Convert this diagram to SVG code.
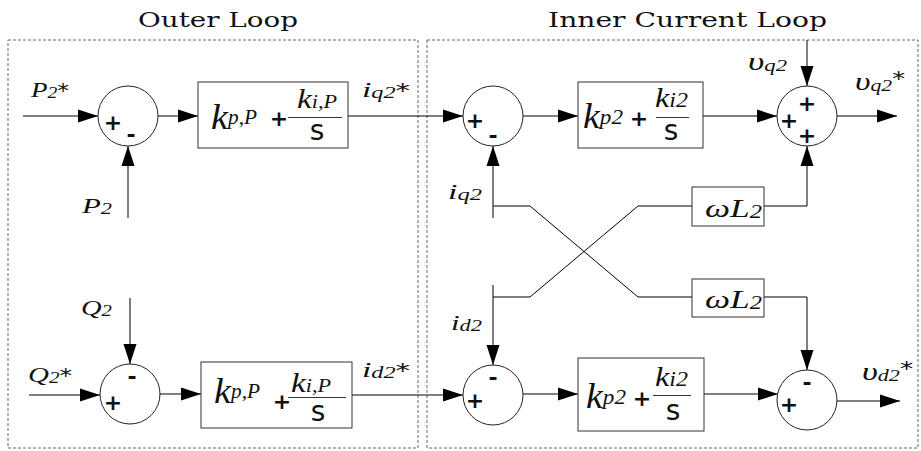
<svg xmlns="http://www.w3.org/2000/svg" width="921" height="451" viewBox="0 0 921 451">
<defs>
<style>
.dash{fill:none;stroke:#666;stroke-width:1;stroke-dasharray:3 2}
.blk{fill:#fff;stroke:#333;stroke-width:1}
.sum{fill:#fff;stroke:#222;stroke-width:1}
.wire{fill:none;stroke:#000;stroke-width:1}
.arr{marker-end:url(#ah)}
.title{font-family:"DejaVu Serif",serif;font-size:21px;fill:#111}
.m{font-family:"Liberation Serif",serif;font-style:italic;fill:#111}
.ast{font-family:"DejaVu Sans",sans-serif;font-style:normal}
.sg{font-family:"DejaVu Sans",sans-serif;font-weight:bold;font-size:22px;text-anchor:middle;fill:#111}
.s{font-family:"DejaVu Sans",sans-serif;font-size:28px;text-anchor:middle;fill:#111}
.fl{stroke:#333;stroke-width:1}
</style>
<marker id="ah" markerUnits="userSpaceOnUse" markerWidth="20" markerHeight="14" refX="20" refY="7" orient="auto">
<path d="M0,0.5 L20,7 L0,13.5 z" fill="#000"/>
</marker>
</defs>
<rect width="921" height="451" fill="#fff"/>

<g id="outer-loop">
<rect class="dash" x="8" y="40" width="410" height="408"/>
<text class="title" x="138" y="27" textLength="160" lengthAdjust="spacingAndGlyphs">Outer Loop</text>
</g>
<g id="inner-loop">
<rect class="dash" x="427" y="40" width="491" height="408"/>
<text class="title" x="548" y="27" textLength="279" lengthAdjust="spacingAndGlyphs">Inner Current Loop</text>
</g>

<g id="connectors">
<line class="wire arr" x1="23" y1="116" x2="98" y2="116"/>
<line class="wire arr" x1="128" y1="218" x2="128" y2="146"/>
<line class="wire arr" x1="158" y1="116" x2="198" y2="116"/>
<line class="wire arr" x1="348" y1="116" x2="463" y2="116"/>
<line class="wire arr" x1="523" y1="116" x2="578" y2="116"/>
<line class="wire arr" x1="703" y1="116" x2="777" y2="116"/>
<line class="wire arr" x1="807" y1="40" x2="807" y2="86"/>
<line class="wire arr" x1="837" y1="116" x2="897" y2="116"/>
<line class="wire arr" x1="493" y1="218" x2="493" y2="146"/>
<polyline class="wire" points="493,206 530,206 638,297 692,297"/>
<polyline class="wire arr" points="764,206 807,206 807,146"/>
<line class="wire arr" x1="493" y1="285" x2="493" y2="365"/>
<polyline class="wire" points="493,297 530,297 638,206 692,206"/>
<polyline class="wire arr" points="764,297 807,297 807,370"/>
<line class="wire arr" x1="29" y1="395" x2="100" y2="395"/>
<line class="wire arr" x1="130" y1="298" x2="130" y2="364"/>
<line class="wire arr" x1="160" y1="394" x2="201" y2="394"/>
<line class="wire arr" x1="352" y1="395" x2="463" y2="395"/>
<line class="wire arr" x1="523" y1="394" x2="578" y2="394"/>
<line class="wire arr" x1="704" y1="394" x2="778" y2="394"/>
<line class="wire arr" x1="837" y1="401" x2="900" y2="401"/>
</g>

<g id="labels">
<text class="m" x="31" y="97" font-size="22" textLength="38" lengthAdjust="spacingAndGlyphs">P<tspan font-size="16" dy="1">2</tspan><tspan class="ast" font-size="19" dy="-1">*</tspan></text>
<text class="m" x="82" y="213" font-size="22" textLength="30" lengthAdjust="spacingAndGlyphs">P<tspan font-size="16" dy="1">2</tspan></text>
<text class="m" x="81" y="315" font-size="22" textLength="31" lengthAdjust="spacingAndGlyphs">Q<tspan font-size="16" dy="1">2</tspan></text>
<text class="m" x="28" y="382" font-size="22" textLength="44" lengthAdjust="spacingAndGlyphs">Q<tspan font-size="16" dy="1">2</tspan><tspan class="ast" font-size="19" dy="-1">*</tspan></text>
<text class="m" x="362" y="97" font-size="22" textLength="48" lengthAdjust="spacingAndGlyphs">i<tspan font-size="16" dy="1">q2</tspan><tspan class="ast" font-size="19" dy="-1">*</tspan></text>
<text class="m" x="362" y="377" font-size="22" textLength="48" lengthAdjust="spacingAndGlyphs">i<tspan font-size="16" dy="1">d2</tspan><tspan class="ast" font-size="19" dy="-1">*</tspan></text>
<text class="m" x="448" y="199" font-size="22" textLength="34" lengthAdjust="spacingAndGlyphs">i<tspan font-size="16" dy="1">q2</tspan></text>
<text class="m" x="451" y="330" font-size="22" textLength="31" lengthAdjust="spacingAndGlyphs">i<tspan font-size="16" dy="1">d2</tspan></text>
<text class="m" x="748" y="70" font-size="25" textLength="39" lengthAdjust="spacingAndGlyphs">υ<tspan font-size="16" dy="1">q2</tspan></text>
<text class="m" x="855" y="90" font-size="25" textLength="50" lengthAdjust="spacingAndGlyphs">υ<tspan font-size="16" dy="1">q2</tspan><tspan class="ast" font-size="19" dy="-6">*</tspan></text>
<text class="m" x="862" y="380" font-size="25" textLength="51" lengthAdjust="spacingAndGlyphs">υ<tspan font-size="16" dy="1">d2</tspan><tspan class="ast" font-size="19" dy="-6">*</tspan></text>
</g>

<g id="sum-p">
<circle class="sum" cx="128" cy="116" r="30"/>
<text class="sg" x="113" y="130">+</text>
<text class="sg" x="131" y="142">-</text>
</g>
<g id="pi-p">
<rect class="blk" x="198" y="82" width="150" height="66"/>
<text class="m" x="211" y="129" font-size="36" textLength="46" lengthAdjust="spacingAndGlyphs">k<tspan font-size="20" dy="-5">p,P</tspan></text>
<text class="sg" x="279" y="126">+</text>
<text class="m" x="297" y="108" font-size="27" textLength="40" lengthAdjust="spacingAndGlyphs">k<tspan font-size="18" dy="0">i,P</tspan></text>
<line class="fl" x1="288" y1="117.5" x2="342" y2="117.5"/>
<text class="s" x="317" y="140">s</text>
</g>

<g id="sum-q">
<circle class="sum" cx="130" cy="394" r="30"/>
<text class="sg" x="132" y="384">-</text>
<text class="sg" x="113" y="410">+</text>
</g>
<g id="pi-q">
<rect class="blk" x="201" y="362" width="151" height="66"/>
<text class="m" x="214" y="403" font-size="36" textLength="46" lengthAdjust="spacingAndGlyphs">k<tspan font-size="20" dy="-5">p,P</tspan></text>
<text class="sg" x="282" y="409">+</text>
<text class="m" x="291" y="392" font-size="27" textLength="40" lengthAdjust="spacingAndGlyphs">k<tspan font-size="18" dy="0">i,P</tspan></text>
<line class="fl" x1="288" y1="397.5" x2="346" y2="397.5"/>
<text class="s" x="318" y="421">s</text>
</g>

<g id="sum-iq">
<circle class="sum" cx="493" cy="116" r="30"/>
<text class="sg" x="475" y="128">+</text>
<text class="sg" x="493" y="143">-</text>
</g>
<g id="pi-iq">
<rect class="blk" x="578" y="82" width="125" height="66"/>
<text class="m" x="583" y="128" font-size="36" textLength="40" lengthAdjust="spacingAndGlyphs">k<tspan font-size="22" dy="-4">p2</tspan></text>
<text class="sg" x="639" y="126">+</text>
<text class="m" x="655" y="107" font-size="27" textLength="33" lengthAdjust="spacingAndGlyphs">k<tspan font-size="20" dy="0">i2</tspan></text>
<line class="fl" x1="656" y1="117.5" x2="689" y2="117.5"/>
<text class="s" x="671" y="140">s</text>
</g>
<g id="sum-vq">
<circle class="sum" cx="807" cy="116" r="30"/>
<text class="sg" x="807" y="111">+</text>
<text class="sg" x="789" y="128">+</text>
<text class="sg" x="807" y="143">+</text>
</g>
<g id="wl-upper">
<rect class="blk" x="692" y="187" width="72" height="39"/>
<text class="m" x="705" y="217" font-size="26" textLength="57" lengthAdjust="spacingAndGlyphs">ωL<tspan font-size="18" dy="1">2</tspan></text>
</g>
<g id="wl-lower">
<rect class="blk" x="692" y="279" width="72" height="38"/>
<text class="m" x="705" y="308" font-size="26" textLength="57" lengthAdjust="spacingAndGlyphs">ωL<tspan font-size="18" dy="1">2</tspan></text>
</g>

<g id="sum-id">
<circle class="sum" cx="493" cy="395" r="30"/>
<text class="sg" x="493" y="385">-</text>
<text class="sg" x="475" y="408">+</text>
</g>
<g id="pi-id">
<rect class="blk" x="578" y="358" width="126" height="73"/>
<text class="m" x="586" y="408" font-size="36" textLength="40" lengthAdjust="spacingAndGlyphs">k<tspan font-size="22" dy="-4">p2</tspan></text>
<text class="sg" x="642" y="406">+</text>
<text class="m" x="655" y="386" font-size="27" textLength="33" lengthAdjust="spacingAndGlyphs">k<tspan font-size="20" dy="0">i2</tspan></text>
<line class="fl" x1="653" y1="395.5" x2="691" y2="395.5"/>
<text class="s" x="673" y="420">s</text>
</g>
<g id="sum-vd">
<circle class="sum" cx="807" cy="400" r="30"/>
<text class="sg" x="807" y="390">-</text>
<text class="sg" x="789" y="412">+</text>
</g>
</svg>
